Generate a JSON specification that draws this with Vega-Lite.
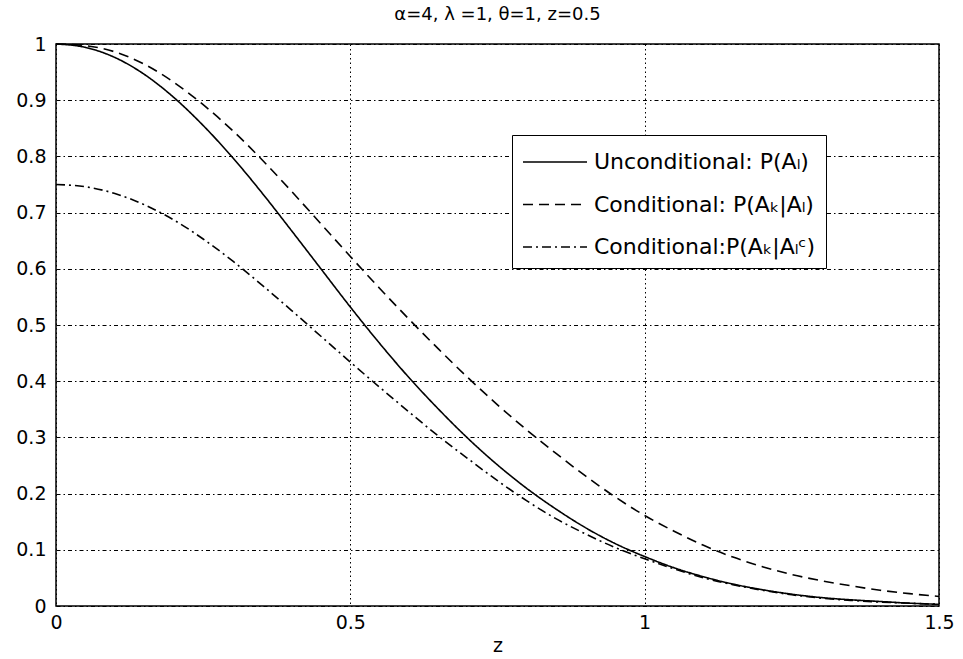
{
  "$schema": "https://vega.github.io/schema/vega-lite/v6.json",
  "width": 883,
  "height": 562,
  "autosize": {"type": "none"},
  "padding": {"left": 56, "top": 44, "right": 24, "bottom": 53},
  "background": "white",
  "title": {"text": "α=4, λ =1, θ=1, z=0.5", "font": "DejaVu Sans", "fontSize": 18, "fontWeight": "normal", "color": "black", "offset": 11, "anchor": "middle"},
  "config": {
    "view": {"stroke": "black", "strokeWidth": 1.5},
    "axis": {"domain": false, "ticks": false, "grid": true, "gridColor": "black", "gridOpacity": 1, "gridWidth": 1, "labelFont": "DejaVu Sans", "labelFontSize": 19, "labelColor": "black", "titleFont": "DejaVu Sans", "titleFontSize": 19, "titleFontWeight": "normal", "titleColor": "black"}
  },
  "data": {"values": [
    {"z": 0, "p": 1.0, "s": "Unconditional: P(Aₗ)"},
    {"z": 0.05, "p": 0.994, "s": "Unconditional: P(Aₗ)"},
    {"z": 0.1, "p": 0.976, "s": "Unconditional: P(Aₗ)"},
    {"z": 0.15, "p": 0.946, "s": "Unconditional: P(Aₗ)"},
    {"z": 0.2, "p": 0.905, "s": "Unconditional: P(Aₗ)"},
    {"z": 0.25, "p": 0.855, "s": "Unconditional: P(Aₗ)"},
    {"z": 0.3, "p": 0.798, "s": "Unconditional: P(Aₗ)"},
    {"z": 0.35, "p": 0.735, "s": "Unconditional: P(Aₗ)"},
    {"z": 0.4, "p": 0.668, "s": "Unconditional: P(Aₗ)"},
    {"z": 0.45, "p": 0.6, "s": "Unconditional: P(Aₗ)"},
    {"z": 0.5, "p": 0.532, "s": "Unconditional: P(Aₗ)"},
    {"z": 0.55, "p": 0.467, "s": "Unconditional: P(Aₗ)"},
    {"z": 0.6, "p": 0.406, "s": "Unconditional: P(Aₗ)"},
    {"z": 0.65, "p": 0.35, "s": "Unconditional: P(Aₗ)"},
    {"z": 0.7, "p": 0.298, "s": "Unconditional: P(Aₗ)"},
    {"z": 0.75, "p": 0.251, "s": "Unconditional: P(Aₗ)"},
    {"z": 0.8, "p": 0.209, "s": "Unconditional: P(Aₗ)"},
    {"z": 0.85, "p": 0.172, "s": "Unconditional: P(Aₗ)"},
    {"z": 0.9, "p": 0.139, "s": "Unconditional: P(Aₗ)"},
    {"z": 0.95, "p": 0.111, "s": "Unconditional: P(Aₗ)"},
    {"z": 1.0, "p": 0.088, "s": "Unconditional: P(Aₗ)"},
    {"z": 1.05, "p": 0.068, "s": "Unconditional: P(Aₗ)"},
    {"z": 1.1, "p": 0.052, "s": "Unconditional: P(Aₗ)"},
    {"z": 1.15, "p": 0.039, "s": "Unconditional: P(Aₗ)"},
    {"z": 1.2, "p": 0.029, "s": "Unconditional: P(Aₗ)"},
    {"z": 1.25, "p": 0.021, "s": "Unconditional: P(Aₗ)"},
    {"z": 1.3, "p": 0.015, "s": "Unconditional: P(Aₗ)"},
    {"z": 1.35, "p": 0.011, "s": "Unconditional: P(Aₗ)"},
    {"z": 1.4, "p": 0.008, "s": "Unconditional: P(Aₗ)"},
    {"z": 1.45, "p": 0.005, "s": "Unconditional: P(Aₗ)"},
    {"z": 1.5, "p": 0.003, "s": "Unconditional: P(Aₗ)"},
    {"z": 0, "p": 1.0, "s": "Conditional: P(Aₖ|Aₗ)"},
    {"z": 0.05, "p": 0.997, "s": "Conditional: P(Aₖ|Aₗ)"},
    {"z": 0.1, "p": 0.986, "s": "Conditional: P(Aₖ|Aₗ)"},
    {"z": 0.15, "p": 0.964, "s": "Conditional: P(Aₖ|Aₗ)"},
    {"z": 0.2, "p": 0.932, "s": "Conditional: P(Aₖ|Aₗ)"},
    {"z": 0.25, "p": 0.892, "s": "Conditional: P(Aₖ|Aₗ)"},
    {"z": 0.3, "p": 0.846, "s": "Conditional: P(Aₖ|Aₗ)"},
    {"z": 0.35, "p": 0.794, "s": "Conditional: P(Aₖ|Aₗ)"},
    {"z": 0.4, "p": 0.738, "s": "Conditional: P(Aₖ|Aₗ)"},
    {"z": 0.45, "p": 0.68, "s": "Conditional: P(Aₖ|Aₗ)"},
    {"z": 0.5, "p": 0.622, "s": "Conditional: P(Aₖ|Aₗ)"},
    {"z": 0.55, "p": 0.565, "s": "Conditional: P(Aₖ|Aₗ)"},
    {"z": 0.6, "p": 0.51, "s": "Conditional: P(Aₖ|Aₗ)"},
    {"z": 0.65, "p": 0.457, "s": "Conditional: P(Aₖ|Aₗ)"},
    {"z": 0.7, "p": 0.406, "s": "Conditional: P(Aₖ|Aₗ)"},
    {"z": 0.75, "p": 0.358, "s": "Conditional: P(Aₖ|Aₗ)"},
    {"z": 0.8, "p": 0.313, "s": "Conditional: P(Aₖ|Aₗ)"},
    {"z": 0.85, "p": 0.271, "s": "Conditional: P(Aₖ|Aₗ)"},
    {"z": 0.9, "p": 0.231, "s": "Conditional: P(Aₖ|Aₗ)"},
    {"z": 0.95, "p": 0.194, "s": "Conditional: P(Aₖ|Aₗ)"},
    {"z": 1.0, "p": 0.161, "s": "Conditional: P(Aₖ|Aₗ)"},
    {"z": 1.05, "p": 0.133, "s": "Conditional: P(Aₖ|Aₗ)"},
    {"z": 1.1, "p": 0.108, "s": "Conditional: P(Aₖ|Aₗ)"},
    {"z": 1.15, "p": 0.087, "s": "Conditional: P(Aₖ|Aₗ)"},
    {"z": 1.2, "p": 0.07, "s": "Conditional: P(Aₖ|Aₗ)"},
    {"z": 1.25, "p": 0.056, "s": "Conditional: P(Aₖ|Aₗ)"},
    {"z": 1.3, "p": 0.045, "s": "Conditional: P(Aₖ|Aₗ)"},
    {"z": 1.35, "p": 0.036, "s": "Conditional: P(Aₖ|Aₗ)"},
    {"z": 1.4, "p": 0.028, "s": "Conditional: P(Aₖ|Aₗ)"},
    {"z": 1.45, "p": 0.022, "s": "Conditional: P(Aₖ|Aₗ)"},
    {"z": 1.5, "p": 0.017, "s": "Conditional: P(Aₖ|Aₗ)"},
    {"z": 0, "p": 0.75, "s": "Conditional:P(Aₖ|Aₗᶜ)"},
    {"z": 0.05, "p": 0.746, "s": "Conditional:P(Aₖ|Aₗᶜ)"},
    {"z": 0.1, "p": 0.734, "s": "Conditional:P(Aₖ|Aₗᶜ)"},
    {"z": 0.15, "p": 0.714, "s": "Conditional:P(Aₖ|Aₗᶜ)"},
    {"z": 0.2, "p": 0.687, "s": "Conditional:P(Aₖ|Aₗᶜ)"},
    {"z": 0.25, "p": 0.653, "s": "Conditional:P(Aₖ|Aₗᶜ)"},
    {"z": 0.3, "p": 0.614, "s": "Conditional:P(Aₖ|Aₗᶜ)"},
    {"z": 0.35, "p": 0.571, "s": "Conditional:P(Aₖ|Aₗᶜ)"},
    {"z": 0.4, "p": 0.526, "s": "Conditional:P(Aₖ|Aₗᶜ)"},
    {"z": 0.45, "p": 0.48, "s": "Conditional:P(Aₖ|Aₗᶜ)"},
    {"z": 0.5, "p": 0.434, "s": "Conditional:P(Aₖ|Aₗᶜ)"},
    {"z": 0.55, "p": 0.389, "s": "Conditional:P(Aₖ|Aₗᶜ)"},
    {"z": 0.6, "p": 0.345, "s": "Conditional:P(Aₖ|Aₗᶜ)"},
    {"z": 0.65, "p": 0.302, "s": "Conditional:P(Aₖ|Aₗᶜ)"},
    {"z": 0.7, "p": 0.262, "s": "Conditional:P(Aₖ|Aₗᶜ)"},
    {"z": 0.75, "p": 0.223, "s": "Conditional:P(Aₖ|Aₗᶜ)"},
    {"z": 0.8, "p": 0.187, "s": "Conditional:P(Aₖ|Aₗᶜ)"},
    {"z": 0.85, "p": 0.155, "s": "Conditional:P(Aₖ|Aₗᶜ)"},
    {"z": 0.9, "p": 0.128, "s": "Conditional:P(Aₖ|Aₗᶜ)"},
    {"z": 0.95, "p": 0.104, "s": "Conditional:P(Aₖ|Aₗᶜ)"},
    {"z": 1.0, "p": 0.084, "s": "Conditional:P(Aₖ|Aₗᶜ)"},
    {"z": 1.05, "p": 0.066, "s": "Conditional:P(Aₖ|Aₗᶜ)"},
    {"z": 1.1, "p": 0.05, "s": "Conditional:P(Aₖ|Aₗᶜ)"},
    {"z": 1.15, "p": 0.038, "s": "Conditional:P(Aₖ|Aₗᶜ)"},
    {"z": 1.2, "p": 0.028, "s": "Conditional:P(Aₖ|Aₗᶜ)"},
    {"z": 1.25, "p": 0.02, "s": "Conditional:P(Aₖ|Aₗᶜ)"},
    {"z": 1.3, "p": 0.014, "s": "Conditional:P(Aₖ|Aₗᶜ)"},
    {"z": 1.35, "p": 0.01, "s": "Conditional:P(Aₖ|Aₗᶜ)"},
    {"z": 1.4, "p": 0.007, "s": "Conditional:P(Aₖ|Aₗᶜ)"},
    {"z": 1.45, "p": 0.005, "s": "Conditional:P(Aₖ|Aₗᶜ)"},
    {"z": 1.5, "p": 0.003, "s": "Conditional:P(Aₖ|Aₗᶜ)"}
  ]},
  "mark": {"type": "line", "color": "black", "strokeWidth": 1.6, "interpolate": "monotone"},
  "encoding": {
    "x": {"field": "z", "type": "quantitative", "scale": {"domain": [0, 1.5], "nice": false, "zero": false},
      "axis": {"values": [0, 0.5, 1, 1.5], "format": "~g", "title": "z", "labelPadding": 7, "titlePadding": 4, "gridDash": [1.5, 3], "labelFlush": false}},
    "y": {"field": "p", "type": "quantitative", "scale": {"domain": [0, 1], "nice": false},
      "axis": {"values": [0, 0.1, 0.2, 0.3, 0.4, 0.5, 0.6, 0.7, 0.8, 0.9, 1], "format": "~g", "title": null, "labelPadding": 10, "gridDash": [4, 3, 1.5, 3]}},
    "strokeDash": {"field": "s", "type": "nominal",
      "scale": {"domain": ["Unconditional: P(Aₗ)", "Conditional: P(Aₖ|Aₗ)", "Conditional:P(Aₖ|Aₗᶜ)"], "range": [[1, 0], [10, 6], [9, 4, 2, 4]]},
      "legend": {"orient": "none", "legendX": 456, "legendY": 91, "title": null, "strokeColor": "black", "fillColor": "white", "padding": 10,
        "symbolType": "M-1,0H3", "symbolSize": 1024, "symbolStrokeWidth": 1.5, "symbolStrokeColor": "black", "symbolFillColor": "transparent",
        "labelFont": "DejaVu Sans", "labelFontSize": 22, "labelColor": "black", "labelOffset": 38, "rowPadding": 14.5, "labelLimit": 400}}
  }
}
